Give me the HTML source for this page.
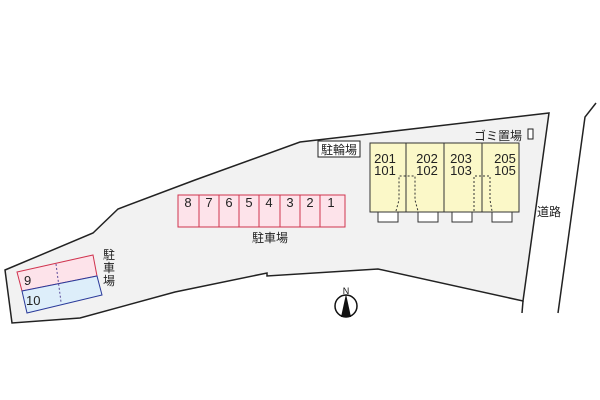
<!DOCTYPE html>
<html><head><meta charset="utf-8"><style>
html,body{margin:0;padding:0;background:#fff;width:600px;height:400px;overflow:hidden}
svg text{font-family:"Liberation Sans","Noto Sans CJK JP",sans-serif;}
</style></head><body>
<svg width="600" height="400" viewBox="0 0 600 400" xmlns="http://www.w3.org/2000/svg">
<polygon points="5,270 93,233 118,209 195,180 300,142 549,113 523,301 378,269 267,276 267,273 175,292 80,318 12,323" fill="#f2f2f2" stroke="#222" stroke-width="1.5"/>
<polyline points="596,103 585,117 558,313" fill="none" stroke="#222" stroke-width="1.5"/>
<line x1="523" y1="301" x2="522" y2="313" stroke="#222" stroke-width="1.5"/>
<!-- building -->
<rect x="370" y="143" width="149" height="69" fill="#fbf8c8" stroke="#333" stroke-width="1"/>
<g stroke="#333" stroke-width="1"><line x1="406" y1="143" x2="406" y2="212"/><line x1="444" y1="143" x2="444" y2="212"/><line x1="482" y1="143" x2="482" y2="212"/></g>
<g fill="none" stroke="#333" stroke-width="1" stroke-dasharray="2,2">
<polyline points="396,211 399,200 399,176 415,176 415,200 418,211"/>
<polyline points="474,211 474,200 474,176 490,176 490,200 492,211"/>
</g>
<g fill="#fff" stroke="#333" stroke-width="1">
<rect x="378" y="212" width="20" height="10"/><rect x="418" y="212" width="20" height="10"/>
<rect x="452" y="212" width="20" height="10"/><rect x="492" y="212" width="20" height="10"/>
</g>
<g font-size="13" fill="#222" text-anchor="middle">
<text x="385" y="163">201</text><text x="385" y="175">101</text>
<text x="427" y="163">202</text><text x="427" y="175">102</text>
<text x="461" y="163">203</text><text x="461" y="175">103</text>
<text x="505" y="163">205</text><text x="505" y="175">105</text>
</g>
<rect x="318" y="141" width="42" height="16" fill="#fff" stroke="#222" stroke-width="1"/>
<text x="339" y="154" font-size="12" text-anchor="middle" fill="#222">駐輪場</text>
<text x="474" y="140" font-size="12" fill="#222">ゴミ置場</text>
<rect x="528" y="129" width="5" height="10" fill="#fff" stroke="#222" stroke-width="1"/>
<text x="537" y="216" font-size="12" fill="#222">道路</text>
<!-- parking -->
<rect x="178" y="195" width="167" height="32" fill="#fde3ea" stroke="#d0344f" stroke-width="1"/>
<g stroke="#d0344f" stroke-width="1">
<line x1="199" y1="195" x2="199" y2="227"/><line x1="219" y1="195" x2="219" y2="227"/><line x1="239" y1="195" x2="239" y2="227"/><line x1="259" y1="195" x2="259" y2="227"/><line x1="280" y1="195" x2="280" y2="227"/><line x1="300" y1="195" x2="300" y2="227"/><line x1="320" y1="195" x2="320" y2="227"/>
</g>
<g font-size="13" fill="#222" text-anchor="middle">
<text x="188" y="207">8</text><text x="209" y="207">7</text><text x="229" y="207">6</text><text x="249" y="207">5</text><text x="269" y="207">4</text><text x="290" y="207">3</text><text x="310" y="207">2</text><text x="331" y="207">1</text>
</g>
<text x="270" y="242" font-size="12" text-anchor="middle" fill="#222">駐車場</text>
<polygon points="17,272 93,255 97,276 22,291" fill="#fde3ea" stroke="#d0344f" stroke-width="1"/>
<polygon points="22,291 97,276 102,295 27,313" fill="#ddeefa" stroke="#2a3a9a" stroke-width="1"/>
<line x1="56" y1="264" x2="61" y2="302" stroke="#5a4a9a" stroke-dasharray="2,2"/>
<text x="24" y="285" font-size="13" fill="#222">9</text>
<text x="26" y="305" font-size="13" fill="#222">10</text>
<g font-size="12" fill="#222" text-anchor="middle"><text x="109" y="259">駐</text><text x="109" y="272">車</text><text x="109" y="285">場</text></g>
<!-- compass -->
<circle cx="346" cy="306" r="11" fill="#fff" stroke="#111" stroke-width="1.5"/>
<polygon points="346,294 341,317 351,317" fill="#111"/>
<text x="346" y="294" font-size="9" text-anchor="middle" fill="#111">N</text>
</svg>
</body></html>
